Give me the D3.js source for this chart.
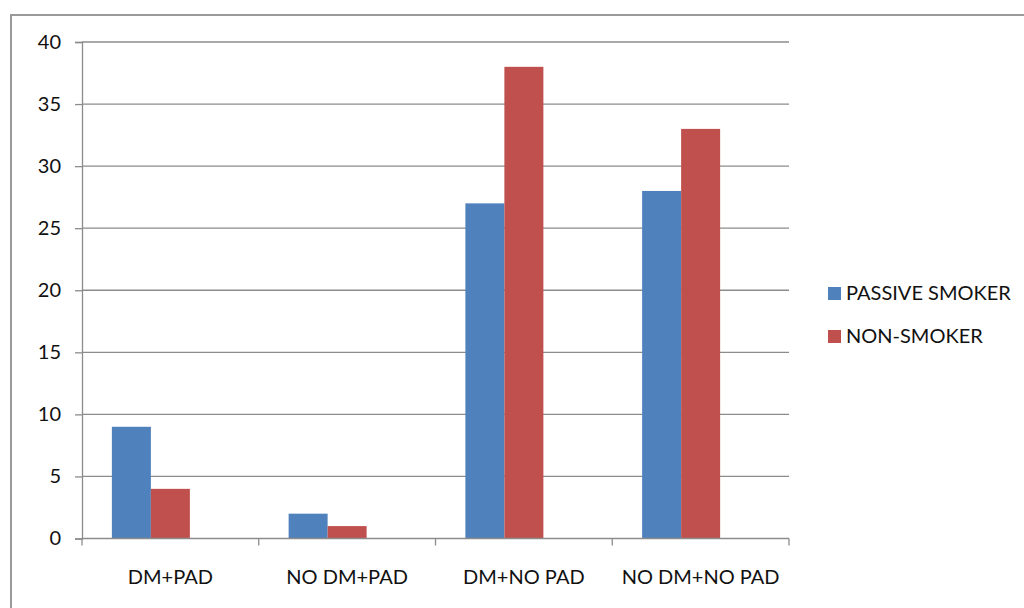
<!DOCTYPE html>
<html>
<head>
<meta charset="utf-8">
<script src="https://cdn.jsdelivr.net/npm/d3@7"></script>
<style>
  html, body { margin: 0; padding: 0; background: #fff; }
  svg { display: block; }
  text { font-family: Lato, "Open Sans", "Liberation Sans", sans-serif; fill: #111; }
</style>
</head>
<body>
<svg id="chart" width="1024" height="608"></svg>
<script>
// Chart data
const categories = ["DM+PAD", "NO DM+PAD", "DM+NO PAD", "NO DM+NO PAD"];
const seriesNames = ["PASSIVE SMOKER", "NON-SMOKER"];
const passiveSmoker = [9, 2, 27, 28];
const nonSmoker = [4, 1, 38, 33];
const yTicks = [0, 5, 10, 15, 20, 25, 30, 35, 40];
const colors = ["#4F81BD", "#C0504D"];

const seriesValues = [passiveSmoker, nonSmoker];

const svg = d3.select("#chart");
const fontSize = 20;

// Outer chart frame
svg.append("rect")
  .attr("x", 11).attr("y", 15)
  .attr("width", 1030).attr("height", 620)
  .attr("fill", "none")
  .attr("stroke", "#9a9a9a")
  .attr("stroke-width", 2);

const plot = { left: 82, right: 789, top: 42, bottom: 538.5 };

const x = d3.scaleBand()
  .domain(categories)
  .range([plot.left, plot.right])
  .paddingInner(0)
  .paddingOuter(0);

const y = d3.scaleLinear()
  .domain([0, 40])
  .range([plot.bottom, plot.top]);

// Each category reserves three bar slots; the two series fill the first two.
const barW = 39;
const slots = 3;

// Horizontal gridlines
svg.append("g")
  .selectAll("line")
  .data(yTicks.filter(t => t > 0))
  .join("line")
  .attr("x1", plot.left).attr("x2", plot.right)
  .attr("y1", d => y(d)).attr("y2", d => y(d))
  .attr("stroke", "#8c8c8c")
  .attr("stroke-width", 1.3);

// Bars
const groups = svg.append("g")
  .selectAll("g")
  .data(categories)
  .join("g")
  .attr("transform", d => `translate(${x(d) + x.bandwidth() / 2 - slots * barW / 2},0)`);

groups.selectAll("rect")
  .data((d, i) => seriesValues.map((vals, s) => ({ s, v: vals[i] })))
  .join("rect")
  .attr("x", d => d.s * barW)
  .attr("width", barW)
  .attr("y", d => y(d.v))
  .attr("height", d => y(0) - y(d.v))
  .attr("fill", d => colors[d.s]);

// Y axis
const yAxis = d3.axisLeft(y)
  .tickValues(yTicks)
  .tickSize(7)
  .tickPadding(14)
  .tickFormat(d3.format("d"));

const yg = svg.append("g")
  .attr("transform", `translate(${plot.left},0)`)
  .call(yAxis);
yg.select(".domain").attr("stroke", "#8c8c8c").attr("stroke-width", 1.3);
yg.selectAll(".tick line").attr("stroke", "#8c8c8c").attr("stroke-width", 1.3);
yg.selectAll(".tick text")
  .attr("font-size", fontSize)
  .attr("fill", "#111")
  .style("font-family", "Lato, 'Open Sans', sans-serif");

// X axis: baseline with category boundary ticks
const xg = svg.append("g");
xg.append("line")
  .attr("x1", plot.left).attr("x2", plot.right)
  .attr("y1", y(0)).attr("y2", y(0))
  .attr("stroke", "#8c8c8c").attr("stroke-width", 1.3);
const boundaries = categories.map(c => x(c)).concat([plot.right]);
xg.selectAll("line.b")
  .data(boundaries)
  .join("line")
  .attr("class", "b")
  .attr("x1", d => d).attr("x2", d => d)
  .attr("y1", y(0)).attr("y2", y(0) + 7)
  .attr("stroke", "#8c8c8c").attr("stroke-width", 1.3);
xg.selectAll("text")
  .data(categories)
  .join("text")
  .attr("x", d => x(d) + x.bandwidth() / 2)
  .attr("y", 584)
  .attr("text-anchor", "middle")
  .attr("font-size", fontSize)
  .text(d => d);

// Legend
const legend = svg.append("g")
  .selectAll("g")
  .data(seriesNames)
  .join("g")
  .attr("transform", (d, i) => `translate(828,${287 + i * 43})`);
legend.append("rect")
  .attr("width", 13).attr("height", 13)
  .attr("fill", (d, i) => colors[i]);
legend.append("text")
  .attr("x", 18).attr("y", 13)
  .attr("font-size", fontSize)
  .text(d => d);
</script>
</body>
</html>
